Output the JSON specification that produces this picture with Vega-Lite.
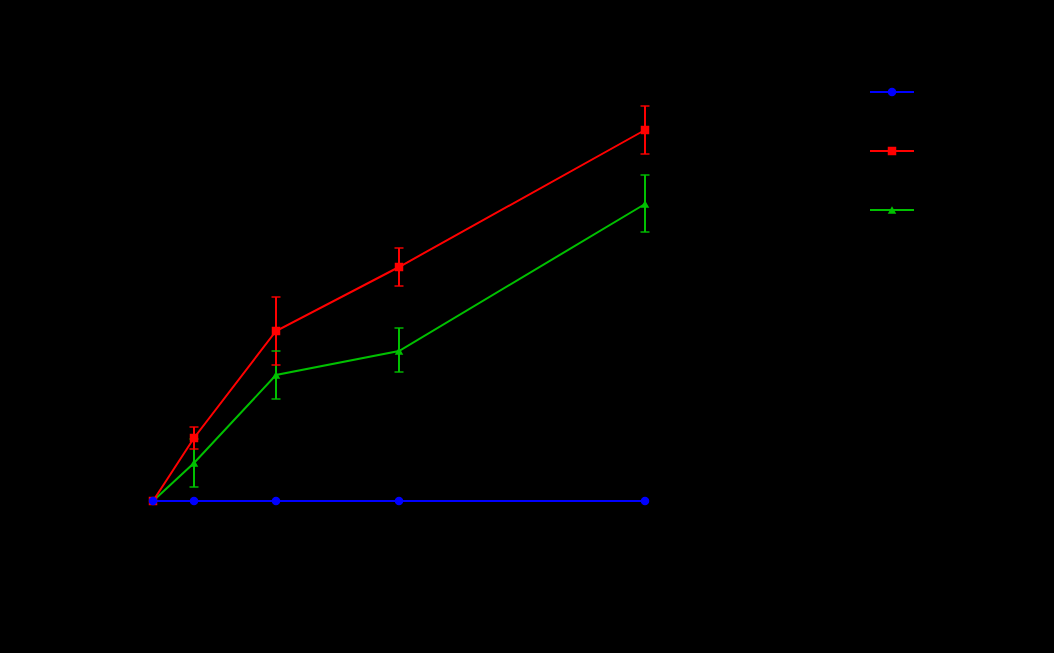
{
  "$schema": "https://vega.github.io/schema/vega-lite/v6.json",
  "autosize": "none",
  "width": 492,
  "height": 400,
  "padding": {"left": 153, "top": 101, "right": 409, "bottom": 152},
  "background": "black",
  "config": {
    "view": {"stroke": null},
    "axis": {"domainColor": "black", "tickColor": "black", "labelColor": "black", "titleColor": "black", "grid": false},
    "legend": {"labelColor": "black", "titleColor": "black", "labelFontSize": 14}
  },
  "datasets": {
    "pts": [
      {"series": "B", "x": 0, "y": 0},
      {"series": "B", "x": 1, "y": 9.5},
      {"series": "B", "x": 3, "y": 31.5},
      {"series": "B", "x": 6, "y": 37.5},
      {"series": "B", "x": 12, "y": 74.25},
      {"series": "A", "x": 0, "y": 0},
      {"series": "A", "x": 1, "y": 15.75},
      {"series": "A", "x": 3, "y": 42.5},
      {"series": "A", "x": 6, "y": 58.5},
      {"series": "A", "x": 12, "y": 92.75},
      {"series": "Control", "x": 0, "y": 0},
      {"series": "Control", "x": 1, "y": 0},
      {"series": "Control", "x": 3, "y": 0},
      {"series": "Control", "x": 6, "y": 0},
      {"series": "Control", "x": 12, "y": 0}
    ],
    "err": [
      {"series": "B", "x": 1, "lo": 3.5, "hi": 15.5},
      {"series": "B", "x": 3, "lo": 25.5, "hi": 37.5},
      {"series": "B", "x": 6, "lo": 32.25, "hi": 43.25},
      {"series": "B", "x": 12, "lo": 67.25, "hi": 81.5},
      {"series": "A", "x": 1, "lo": 13, "hi": 18.5},
      {"series": "A", "x": 3, "lo": 34, "hi": 51},
      {"series": "A", "x": 6, "lo": 53.75, "hi": 63.25},
      {"series": "A", "x": 12, "lo": 86.75, "hi": 98.75}
    ]
  },
  "layer": [
    {
      "data": {"name": "err"},
      "mark": {"type": "rule", "strokeWidth": 2},
      "encoding": {
        "x": {"field": "x", "type": "quantitative"},
        "y": {"field": "lo", "type": "quantitative"},
        "y2": {"field": "hi"},
        "color": {"field": "series", "type": "nominal", "legend": null}
      }
    },
    {
      "data": {"name": "err"},
      "mark": {"type": "tick", "orient": "horizontal", "size": 9, "thickness": 2},
      "encoding": {
        "x": {"field": "x", "type": "quantitative"},
        "y": {"field": "lo", "type": "quantitative"},
        "color": {"field": "series", "type": "nominal", "legend": null}
      }
    },
    {
      "data": {"name": "err"},
      "mark": {"type": "tick", "orient": "horizontal", "size": 9, "thickness": 2},
      "encoding": {
        "x": {"field": "x", "type": "quantitative"},
        "y": {"field": "hi", "type": "quantitative"},
        "color": {"field": "series", "type": "nominal", "legend": null}
      }
    },
    {
      "data": {"name": "pts"},
      "mark": {"type": "line", "strokeWidth": 2},
      "encoding": {
        "x": {"field": "x", "type": "quantitative", "scale": {"domain": [0, 12], "nice": false}, "title": "Time"},
        "y": {"field": "y", "type": "quantitative", "scale": {"domain": [0, 100], "nice": false}, "title": "Value"},
        "color": {
          "field": "series", "type": "nominal",
          "scale": {"domain": ["Control", "A", "B"], "range": ["#0000ff", "#ff0000", "#00c000"]},
          "legend": {"orient": "none", "legendX": 716, "legendY": -32, "title": null, "symbolType": "stroke", "symbolSize": 1936, "symbolStrokeWidth": 2, "rowPadding": 29}
        }
      }
    },
    {
      "data": {"name": "pts"},
      "mark": {"type": "point", "filled": true, "size": 72, "opacity": 1},
      "encoding": {
        "x": {"field": "x", "type": "quantitative"},
        "y": {"field": "y", "type": "quantitative"},
        "color": {"field": "series", "type": "nominal", "legend": {"orient": "none", "legendX": 732, "legendY": -16, "title": null, "symbolSize": 72, "rowPadding": 45, "labelExpr": "''"}},
        "shape": {"field": "series", "type": "nominal", "scale": {"domain": ["Control", "A", "B"], "range": ["circle", "square", "triangle-up"]}, "legend": {"orient": "none", "legendX": 732, "legendY": -16, "title": null, "symbolSize": 72, "rowPadding": 45, "labelExpr": "''"}}
      }
    }
  ],
  "resolve": {"legend": {"color": "independent", "shape": "independent"}}
}
